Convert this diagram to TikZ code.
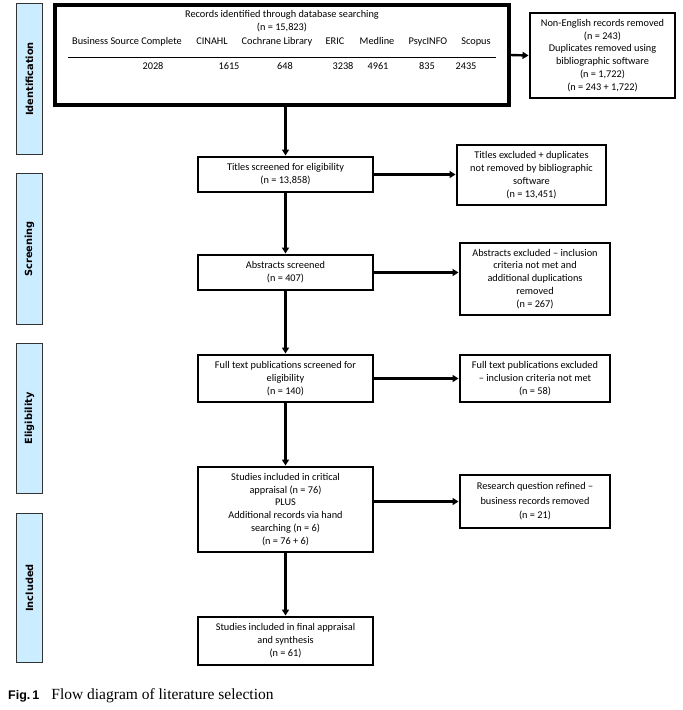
\documentclass[tikz,border=0pt]{standalone}
\usepackage{fontspec}
\setmainfont{Carlito}
\newfontfamily\labfont{DejaVu Sans}
\newfontfamily\capserif{Liberation Serif}
\newfontfamily\capsans{Liberation Sans}
\usetikzlibrary{arrows.meta}
\definecolor{sidefill}{RGB}{204,236,255}
\tikzset{
 box/.style={draw=black, line width=2.9pt, align=center, inner sep=0pt, font=\fontsize{10.3}{12.9}\selectfont},
 side/.style={draw=black!80, line width=1.3pt, fill=sidefill, inner sep=0pt, font=\labfont\bfseries\fontsize{9.8}{11}\selectfont},
 txt/.style={inner sep=0pt, font=\fontsize{10.3}{12.9}\selectfont, align=center},
 flow/.style={line width=2.4pt, -{Triangle[length=6pt,width=7pt]}},
 rule/.style={line width=0.8pt},
}
\begin{document}
\begin{tikzpicture}[x=1pt,y=-1pt]
\useasboundingbox (0,0) rectangle (683,710);
% side labels
\node[side, rotate=90, minimum width=151pt, minimum height=26pt] (sid) at (29.5,79) {Identification};
\node[side, rotate=90, minimum width=151pt, minimum height=26pt] (sscr) at (29.5,249) {Screening};
\node[side, rotate=90, minimum width=150pt, minimum height=26pt] (self) at (29.5,418.5) {Eligibility};
\node[side, rotate=90, minimum width=149pt, minimum height=26pt] (sinc) at (29.5,588) {Included};
% main records box
\node[box, line width=3.1pt, minimum width=454pt, minimum height=100pt] (rec) at (282,55) {};
\node[txt] (rt) at (282,21) {Records identified through database searching\\(n = 15,823)};
\node[txt, anchor=base] (h1) at (127,44.5) {Business Source Complete};
\node[txt, anchor=base] (h2) at (212,44.5) {CINAHL};
\node[txt, anchor=base] (h3) at (277,44.5) {Cochrane Library};
\node[txt, anchor=base] (h4) at (335,44.5) {ERIC};
\node[txt, anchor=base] (h5) at (377,44.5) {Medline};
\node[txt, anchor=base] (h6) at (428,44.5) {PsycINFO};
\node[txt, anchor=base] (h7) at (476,44.5) {Scopus};
\coordinate (rl) at (68,57);
\coordinate (rr) at (496,57);
\draw[rule] (rl) -- (rr);
\node[txt, anchor=base] (v1) at (153,69.5) {2028};
\node[txt, anchor=base] (v2) at (229,69.5) {1615};
\node[txt, anchor=base] (v3) at (285,69.5) {648};
\node[txt, anchor=base] (v4) at (343,69.5) {3238};
\node[txt, anchor=base] (v5) at (378,69.5) {4961};
\node[txt, anchor=base] (v6) at (427,69.5) {835};
\node[txt, anchor=base] (v7) at (466,69.5) {2435};
% right boxes
\node[box, minimum width=145pt, minimum height=85pt] (rem) at (602.5,55.5) {Non-English records removed\\(n = 243)\\Duplicates removed using\\bibliographic software\\(n = 1,722)\\(n = 243 + 1,722)};
\node[box, minimum width=149pt, minimum height=60pt] (ex1) at (531.5,175) {Titles excluded + duplicates\\not removed by bibliographic\\software\\(n = 13,451)};
\node[box, minimum width=150pt, minimum height=72pt] (ex2) at (535,279) {Abstracts excluded -- inclusion\\criteria not met and\\additional duplications\\removed\\(n = 267)};
\node[box, minimum width=150pt, minimum height=47pt] (ex3) at (535,378.5) {Full text publications excluded\\-- inclusion criteria not met\\(n = 58)};
\node[box, minimum width=150pt, minimum height=53pt, font=\fontsize{10.3}{14.5}\selectfont] (ex4) at (535,501.5) {Research question refined --\\business records removed\\(n = 21)};
% centre column
\node[box, minimum width=175pt, minimum height=35pt] (tit) at (285.5,174.5) {Titles screened for eligibility\\(n = 13,858)};
\node[box, minimum width=175pt, minimum height=35pt] (abs) at (285.5,272.5) {Abstracts screened\\(n = 407)};
\node[box, minimum width=175pt, minimum height=47pt] (ful) at (285.5,378.5) {Full text publications screened for\\eligibility\\(n = 140)};
\node[box, minimum width=175pt, minimum height=85pt] (stu) at (285.5,509.5) {Studies included in critical\\appraisal (n = 76)\\PLUS\\Additional records via hand\\searching (n = 6)\\(n = 76 + 6)};
\node[box, minimum width=175pt, minimum height=48pt] (fin) at (285.5,641) {Studies included in final appraisal\\and synthesis\\(n = 61)};
% arrows
\draw[flow] (rec.east) -- (rem.west);
\draw[flow] (tit.north |- rec.south) -- (tit.north);
\draw[flow] (tit.east) -- (tit.east -| ex1.west);
\draw[flow] (tit.south) -- (abs.north);
\draw[flow] (abs.east) -- (abs.east -| ex2.west);
\draw[flow] (abs.south) -- (ful.north);
\draw[flow] (ful.east) -- (ful.east -| ex3.west);
\draw[flow] (ful.south) -- (stu.north);
\draw[flow] (ex4.west -| stu.east) -- (ex4.west);
\draw[flow] (stu.south) -- (fin.north);
% caption
\node[anchor=base west, inner sep=0pt] (cap) at (8,699) {{\capsans\bfseries\fontsize{12.5}{14}\selectfont Fig.\,1}\hspace{12pt}{\capserif\fontsize{15.5}{17}\selectfont Flow diagram of literature selection}};
\end{tikzpicture}
\end{document}
